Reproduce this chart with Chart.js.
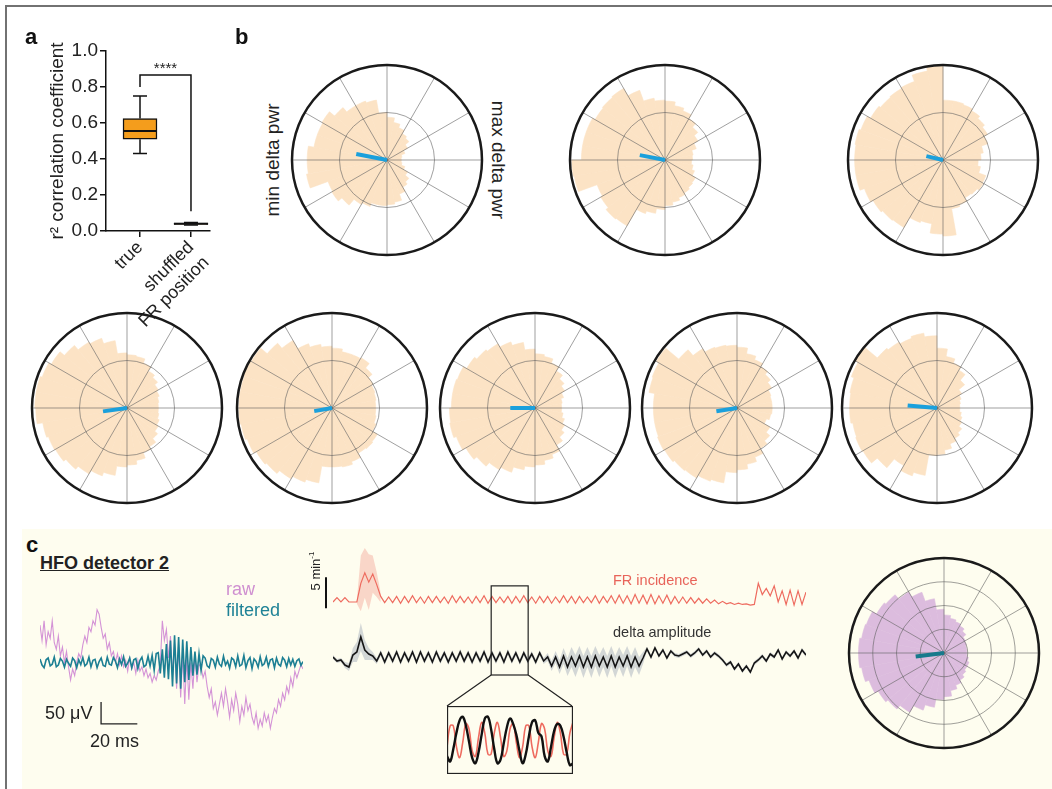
<!DOCTYPE html>
<html lang="en">
<head>
<meta charset="UTF-8">
<meta name="viewport" content="width=device-width, initial-scale=1.0">
<title>FR incidence locked to delta phase</title>
<script src="https://cdn.jsdelivr.net/npm/chart.js"></script>
<style>
  body { margin: 0; background: #fff; font-family: "Liberation Sans", Arial, sans-serif; color: #222; }
  #page { position: relative; width: 1052px; height: 789px; overflow: hidden; }
  #frame { position: absolute; left: 5px; top: 5px; width: 1100px; height: 900px; border-top: 2px solid #727272; border-left: 2px solid #727272; }
  #panelC { position: absolute; left: 22px; top: 529px; width: 1040px; height: 270px; background: #fefdef; }
  canvas { position: absolute; }
  .lbl { position: absolute; white-space: nowrap; line-height: 1; }
  .panel { font-weight: bold; font-size: 22px; color: #111; }
  .rot { transform: translate(-50%, -50%) rotate(-90deg); }
  .rot90 { transform: translate(-50%, -50%) rotate(90deg); }
</style>
</head>
<body>
<div id="page">
  <div id="frame"></div>
  <div id="panelC"></div>

  <canvas id="boxChart" width="215" height="320" style="left:10px;top:30px"></canvas>
  <canvas id="hfoChart" width="263" height="136" style="left:40px;top:601px"></canvas>
  <canvas id="traceChart" width="520" height="170" style="left:300px;top:540px"></canvas>
  <canvas id="insetChart" width="126" height="68" style="left:447px;top:706px"></canvas>

  <div class="lbl panel" style="left:25px;top:26px">a</div>
  <div class="lbl panel" style="left:235px;top:26px">b</div>
  <div class="lbl panel" style="left:26px;top:534px">c</div>

  <div class="lbl rot" style="left:272px;top:160px;font-size:19px">min delta pwr</div>
  <div class="lbl rot90" style="left:498px;top:160px;font-size:19px">max delta pwr</div>

  <div class="lbl" style="left:40px;top:554px;font-size:18px;font-weight:bold;text-decoration:underline">HFO detector 2</div>
  <div class="lbl" style="left:226px;top:580px;font-size:18px;color:#cf8fd0">raw</div>
  <div class="lbl" style="left:226px;top:601px;font-size:18px;color:#1f8296">filtered</div>
  <div class="lbl" style="left:45px;top:704px;font-size:18px">50 μV</div>
  <div class="lbl" style="left:90px;top:732px;font-size:18px">20 ms</div>

  <div class="lbl rot" style="left:315px;top:571px;font-size:13px">5 min<sup style="font-size:8px">-1</sup></div>
  <div class="lbl" style="left:613px;top:573px;font-size:14.5px;color:#e8645a">FR incidence</div>
  <div class="lbl" style="left:613px;top:625px;font-size:14.5px;color:#333">delta amplitude</div>
</div>

<script>
// ---- panel a: r^2 box plot ----
const boxCats = ['true', ['shuffled', 'FR position']];
const boxMin = [0.43, 0.033];
const boxQ1 = [0.51, 0.036];
const boxMed = [0.555, 0.040];
const boxQ3 = [0.625, 0.044];
const boxMax = [0.75, 0.047];
const sigBracket = { leftEnd: 0.80, top: 0.867, rightEnd: 0.11, label: '****' };

// ---- panel b: phase histograms (36 bins of 10 deg, clockwise from top) ----
const binStarts = [0,10,20,30,40,50,60,70,80,90,100,110,120,130,140,150,160,170,
                   180,190,200,210,220,230,240,250,260,270,280,290,300,310,320,330,340,350];
const rose1 = [0.45,0.40,0.36,0.32,0.30,0.25,0.20,0.16,0.15, 0.15,0.16,0.20,0.25,0.30,0.33,0.38,0.45,0.47,
               0.48,0.48,0.52,0.54,0.62,0.67,0.66,0.86,0.84, 0.84,0.78,0.78,0.79,0.72,0.66,0.66,0.64,0.50];
const rose2 = [0.62,0.58,0.55,0.50,0.45,0.40,0.35,0.30,0.29, 0.28,0.30,0.33,0.37,0.38,0.40,0.42,0.45,0.48,
               0.52,0.57,0.60,0.80,0.81,0.78,0.76,0.97,0.98, 0.88,0.88,0.88,0.85,0.86,0.87,0.78,0.66,0.63];
const rose3 = [0.63,0.63,0.62,0.60,0.57,0.54,0.50,0.43,0.40, 0.37,0.40,0.48,0.49,0.47,0.46,0.50,0.52,0.80,
               0.78,0.68,0.70,0.82,0.83,0.85,0.88,0.93,0.93, 0.93,0.94,0.92,0.88,0.86,0.87,0.88,0.95,0.99];
const rose4 = [0.56,0.55,0.50,0.45,0.42,0.38,0.36,0.34,0.33, 0.33,0.34,0.36,0.38,0.42,0.47,0.50,0.56,0.60,
               0.62,0.72,0.76,0.80,0.84,0.87,0.88,0.90,0.96, 0.97,0.97,0.95,0.92,0.86,0.80,0.78,0.72,0.58];
const rose5 = [0.63,0.60,0.60,0.61,0.55,0.50,0.48,0.47,0.46, 0.46,0.47,0.49,0.55,0.56,0.55,0.60,0.63,0.62,
               0.62,0.80,0.83,0.86,0.90,0.92,0.95,0.97,0.98, 0.98,0.98,0.99,0.98,0.89,0.82,0.72,0.68,0.65];
const rose6 = [0.57,0.55,0.50,0.45,0.40,0.36,0.32,0.29,0.28, 0.28,0.30,0.33,0.36,0.40,0.45,0.52,0.56,0.60,
               0.62,0.66,0.72,0.75,0.80,0.84,0.88,0.91,0.90, 0.88,0.88,0.87,0.83,0.80,0.78,0.74,0.70,0.62];
const rose7 = [0.64,0.58,0.54,0.50,0.46,0.42,0.38,0.37,0.37, 0.37,0.36,0.33,0.40,0.45,0.49,0.55,0.60,0.65,
               0.68,0.80,0.82,0.85,0.86,0.88,0.89,0.88,0.88, 0.88,0.94,0.95,0.98,0.80,0.72,0.68,0.67,0.66];
const rose8 = [0.63,0.55,0.50,0.46,0.38,0.30,0.27,0.25,0.24, 0.24,0.26,0.28,0.30,0.34,0.37,0.40,0.45,0.49,
               0.50,0.72,0.76,0.70,0.82,0.90,0.91,0.90,0.92, 0.92,0.93,0.96,1.00,0.82,0.80,0.78,0.80,0.76];
// mean vector per histogram: [angle deg, counter-clockwise from 3 o'clock; length]
const roseVectors = [[169,0.33],[169,0.27],[167,0.18],[188,0.255],[190,0.19],[180,0.26],[189,0.22],[175,0.31]];

// ---- panel c ----
const hfoDt = 1.125; // ms per sample
const rawTrace = [85,50,95,40,70,55,95, 45,30,60,15,35,0,25,-10, -40,-15,-30,0,
  20,10,40,60,45,80,70,95,85,120,110, 80,55,65,30,45,15,25,0,20,-5,
  15,-10,5,-20,10,-15,0,-25,5,-20,-10,-30,-15, -35,-25,-45,-30,-40,-20,-5, 95,50,75,
  10,60,-30,45,-60,40,-80,20,-95,10,-85,0,-60,15,-45,-5, -10,-35,-20,-55,
  -80,-60,-105,-90,-120,-95, -70,-100,-60,-90,-125,-85,-110,-70,-95,-135,-100,-120,-80,-110,-95,-125,
  -140,-115,-150,-130,-145,-115,-135,-120,-150, -125,-105,-115,-85,-100,-70,-85,-55,-70,-35,-55,-20,-35,
  -20,-5,-15];
const filteredTrace = [8,-6,-12,6,10,-8,-4,12,-10,-6, 9,3,-11,7,-2,-9,10,4,-12,6,
  -5,11,-8,-3,12,-10,5,7,-12,2, 10,-7,-9,12,-4,-6,11,3,-12,8, -5,13,-9,-2,10,-12,6,9,-14,4,
  12,-10,-6,14,-8,16,-18,20,
  22,-25,30,-35,42,-38,50,-55,62,-48, 58,-60,52,-45,48,-40,35,-30,25,-28, 20,-18,15,
  10,-8,-12,9,5,-11,12,-4,-9,14, -6,3,-13,10,6,-10,15,-8,-5,16, -12,4,11,-14,8,2,-11,13,-7,-3,
  12,-9,6,8,-12,10,-4,-8,11,5, -10,9,-6,7,-9,4,8,-7,2];
const hfoScaleBar = { t0: 33.7, tLen: 20, v0: -140, vLen: 50 };

// FR incidence (min^-1) and delta amplitude (a.u.), one sample per bin
const frIncidence = [2.0,2.7,2.0,2.7,2.0,2.0,2.0, 5.0,6.7,5.2,6.5,4.8,
  2.9,1.9,2.8,1.9,2.9,1.8,2.9,1.9,3.0,1.9,2.8,1.8,2.9,1.9,2.9,1.9,2.8,1.8,3.0,1.9,
  2.9,1.9,2.8,1.8,2.9,1.9,3.0,1.8,2.9,1.9,2.8,1.9,2.9,1.8,2.9,1.9,3.0,1.9,2.8,1.8,
  2.9,1.9,2.9,1.8,2.8,1.9,3.0,1.9,2.9,1.8,2.9,1.9,2.8,1.9,3.0,1.8,2.9,1.9,3.0,1.8,
  3.1,1.8,3.0,1.7,3.2,1.8,3.1,1.7,3.2,1.7,3.0,1.8,3.1,1.7,2.9,1.8,2.8,1.8,2.7,1.8,2.6,1.8,2.5,1.8,
  2.3,1.7,2.1,1.7,1.9,1.6,1.8,1.6,1.7,1.5,1.6,
  5.0,3.2,4.2,3.0,4.6,2.0,3.8,1.6,3.9,1.5,3.8,1.6,3.6];
const frBandStart = 6;
const frBandUpper = [2.3,9.5,10.7,9.7,9.5,6.8,3.5];
const frBandLower = [1.7,0.5,2.7,0.7,3.5,2.8,1.9];
const deltaAmp = [33,29,30,25,23,35,38,53,40,36,34,
  29,37,28,37,29,38,28,37,29,38, 28,38,29,37,28,38,29,37,28,37, 29,38,29,37,28,37,29,38,28,37,
  29,37,28,38,29,37,28,37,29,36, 28,37,29,
  33,24,33,23,34,23,33,24,34,23, 33,23,34,24,33,23,34,23,33,24, 34,23,33,24,32,
  41,33,42,34,40,32,39,35, 34,36,38,34,37,41,35,39,33,37,34,
  30,25,28,21,26,19,24,18,27, 30,34,29,36,33,40,31,38,34,39,32,40,35];
const deltaSpread = [2,2,2,3,4,7,10,14,10,6,4,
  3,3,3,3,3,3,3,3,3,3, 3,3,3,3,3,3,3,3,3,3, 3,3,3,3,3,3,3,3,3,3, 3,3,3,3,3,3,3,3,3,3, 3,3,3,
  4,5,6,7,8,9,10,11,10,11, 10,11,10,11,10,11,10,11,10,11, 10,11,10,9,6,
  2,2,2,2,2,2,2,2,2,2, 2,2,2,2,2,2,2,2,2,2, 2,2,2,2,2,2,2,2,2,2, 2,2,2,2,2,2,2,2,2,2, 2];
const zoomWindow = { from: 39.8, to: 49.1, frTop: 4.6, deltaBottom: 15 };

// zoomed cycles
const insetFR = [-0.38,0.79,0.79,-0.38,-0.99,-0.13,0.92,0.61,-0.61,-0.92,0.13,0.99,0.38,-0.79,-0.79,0.38,0.99,0.13,
  -0.92,-0.61,0.61,0.92,-0.13,-0.99,-0.38,0.79,0.79,-0.38,-0.99,-0.13,0.92,0.61,-0.61,-0.92,0.13,0.99,0.38,-0.79,-0.79,0.38,0.99];
const insetDelta = [-0.9,-1.2,-0.5,0.4,1.1,1.3,0.8,-0.1,-1.0,-1.3,-0.7,0.3,1.2,1.3,0.6,-0.5,-1.3,-1.1,-0.2,0.7,
  1.2,0.9,0.3,-0.6,-1.3,-0.8,0.2,1.0,1.1,0.4,0.2,-0.9,-1.2,-0.4,0.5,0.9,0.8,0.2,-0.7,-1.4,-1.3];

const rosePurple = [0.40,0.37,0.35,0.33,0.30,0.26,0.25,0.24,0.24, 0.24,0.26,0.28,0.28,0.30,0.33,0.36,0.40,0.46,
                    0.49,0.58,0.64,0.72,0.77,0.80,0.84,0.88,0.90, 0.90,0.88,0.87,0.82,0.80,0.74,0.68,0.58,0.46];
const purpleVector = [187, 0.30];

Chart.defaults.font.family = '"Liberation Sans", Arial, sans-serif';
Chart.defaults.color = '#222';
Chart.defaults.animation = false;
Chart.defaults.plugins.legend.display = false;
Chart.defaults.plugins.tooltip.enabled = false;

// ---------- panel a ----------
const boxPlugin = {
  id: 'boxWhiskers',
  afterDatasetsDraw(chart) {
    const { ctx, scales: { x, y } } = chart;
    ctx.save();
    ctx.strokeStyle = '#111';
    boxMed.forEach((m, i) => {
      const cx = x.getPixelForValue(i);
      ctx.lineWidth = 1.5;
      ctx.beginPath();
      ctx.moveTo(cx, y.getPixelForValue(boxQ3[i])); ctx.lineTo(cx, y.getPixelForValue(boxMax[i]));
      ctx.moveTo(cx, y.getPixelForValue(boxQ1[i])); ctx.lineTo(cx, y.getPixelForValue(boxMin[i]));
      ctx.moveTo(cx - 7, y.getPixelForValue(boxMax[i])); ctx.lineTo(cx + 7, y.getPixelForValue(boxMax[i]));
      ctx.moveTo(cx - 7, y.getPixelForValue(boxMin[i])); ctx.lineTo(cx + 7, y.getPixelForValue(boxMin[i]));
      ctx.stroke();
      ctx.lineWidth = 2;
      ctx.beginPath();
      ctx.moveTo(cx - 17, y.getPixelForValue(m)); ctx.lineTo(cx + 17, y.getPixelForValue(m));
      ctx.stroke();
    });
    // significance bracket
    const xl = x.getPixelForValue(0), xr = x.getPixelForValue(1), yt = y.getPixelForValue(sigBracket.top);
    ctx.lineWidth = 1.5;
    ctx.beginPath();
    ctx.moveTo(xl, y.getPixelForValue(sigBracket.leftEnd));
    ctx.lineTo(xl, yt); ctx.lineTo(xr, yt);
    ctx.lineTo(xr, y.getPixelForValue(sigBracket.rightEnd));
    ctx.stroke();
    ctx.fillStyle = '#222';
    ctx.font = '15px "Liberation Sans", Arial, sans-serif';
    ctx.textAlign = 'center';
    ctx.textBaseline = 'bottom';
    ctx.fillText(sigBracket.label, (xl + xr) / 2, yt + 1);
    ctx.restore();
  }
};

new Chart(document.getElementById('boxChart'), {
  type: 'bar',
  data: {
    datasets: [{
      data: boxQ1.map((q, i) => ({ x: i, y: [q, boxQ3[i]] })),
      backgroundColor: '#f49d1c',
      borderColor: '#111',
      borderWidth: 1.5,
      borderSkipped: false,
      barThickness: 34
    }]
  },
  options: {
    responsive: false,
    layout: { padding: { left: 36, top: 21, right: 15, bottom: 0 } },
    scales: {
      x: {
        type: 'linear', min: -0.667, max: 1.373, offset: false,
        afterBuildTicks: s => { s.ticks = boxCats.map((c, i) => ({ value: i })); },
        afterFit: s => { s.height = 119; },
        ticks: { callback: v => boxCats[v], autoSkip: false, minRotation: 45, maxRotation: 45, font: { size: 18 }, padding: 0, color: '#222' },
        grid: { drawOnChartArea: false, offset: false, tickLength: 6, color: '#111', lineWidth: 1.5 },
        border: { color: '#111', width: 1.5 }
      },
      y: {
        min: 0, max: 1,
        afterFit: s => { s.width = 60; },
        ticks: { stepSize: 0.2, callback: v => v.toFixed(1), font: { size: 19 }, padding: 2, color: '#222' },
        grid: { drawOnChartArea: false, tickLength: 6, color: '#111', lineWidth: 1.5 },
        border: { color: '#111', width: 1.5 },
        title: { display: true, text: 'r² correlation coefficient', font: { size: 19 }, padding: 0, color: '#222' }
      }
    }
  },
  plugins: [boxPlugin]
});

// ---------- rose plots ----------
function roseDecor(vec, rings, vecColor) {
  return {
    id: 'roseDecor',
    afterDatasetsDraw(chart) {
      const r = chart.scales.r, ctx = chart.ctx;
      const cx = r.xCenter, cy = r.yCenter, R = r.drawingArea;
      ctx.save();
      ctx.strokeStyle = 'rgba(95,95,95,0.75)';
      ctx.lineWidth = 0.8;
      ctx.beginPath();
      for (let k = 0; k < 12; k++) {
        const a = k * Math.PI / 6;
        ctx.moveTo(cx, cy);
        ctx.lineTo(cx + R * Math.cos(a), cy + R * Math.sin(a));
      }
      ctx.stroke();
      rings.forEach(v => {
        ctx.beginPath();
        ctx.arc(cx, cy, r.getDistanceFromCenterForValue(v), 0, 2 * Math.PI);
        ctx.stroke();
      });
      ctx.strokeStyle = '#1a1a1a';
      ctx.lineWidth = 2.5;
      ctx.beginPath();
      ctx.arc(cx, cy, R, 0, 2 * Math.PI);
      ctx.stroke();
      const ang = vec[0] * Math.PI / 180, len = r.getDistanceFromCenterForValue(vec[1]);
      ctx.strokeStyle = vecColor;
      ctx.lineWidth = 4;
      ctx.beginPath();
      ctx.moveTo(cx, cy);
      ctx.lineTo(cx + len * Math.cos(ang), cy - len * Math.sin(ang));
      ctx.stroke();
      ctx.restore();
    }
  };
}

function makeRose(values, vec, cx, cy, fill, vecColor, rings) {
  const cv = document.createElement('canvas');
  cv.width = 204; cv.height = 204;
  cv.style.left = (cx - 102) + 'px';
  cv.style.top = (cy - 102) + 'px';
  document.getElementById('page').appendChild(cv);
  new Chart(cv, {
    type: 'polarArea',
    data: {
      labels: binStarts,
      datasets: [{ data: values, backgroundColor: fill, borderColor: fill, borderWidth: 0.6 }]
    },
    options: {
      responsive: false,
      layout: { padding: 7 },
      scales: {
        r: {
          min: 0, max: 1,
          ticks: { display: false },
          grid: { display: false },
          angleLines: { display: false },
          pointLabels: { display: false }
        }
      }
    },
    plugins: [roseDecor(vec, rings, vecColor)]
  });
}

const roseLayout = [
  [387, 160], [665, 160], [943, 160],
  [127, 408], [332, 408], [535, 408], [737, 408], [937, 408]
];
[rose1, rose2, rose3, rose4, rose5, rose6, rose7, rose8].forEach((vals, i) => {
  makeRose(vals, roseVectors[i], roseLayout[i][0], roseLayout[i][1], '#fce3c5', '#1ba0dc', [0.5]);
});
makeRose(rosePurple, purpleVector, 944, 653, '#dcbcde', '#177a8c', [0.25, 0.5, 0.75]);

// ---------- HFO traces ----------
const hfoBar = {
  id: 'hfoBar',
  afterDraw(chart) {
    const { ctx, scales: { x, y } } = chart;
    const x0 = x.getPixelForValue(hfoScaleBar.t0), x1 = x.getPixelForValue(hfoScaleBar.t0 + hfoScaleBar.tLen);
    const y0 = y.getPixelForValue(hfoScaleBar.v0), y1 = y.getPixelForValue(hfoScaleBar.v0 + hfoScaleBar.vLen);
    ctx.save();
    ctx.strokeStyle = '#222';
    ctx.lineWidth = 1.3;
    ctx.beginPath();
    ctx.moveTo(x0, y1); ctx.lineTo(x0, y0); ctx.lineTo(x1, y0);
    ctx.stroke();
    ctx.restore();
  }
};

new Chart(document.getElementById('hfoChart'), {
  type: 'line',
  data: {
    datasets: [
      { data: filteredTrace.map((v, i) => ({ x: i * hfoDt, y: v })), borderColor: '#1c7f93', borderWidth: 1.6 },
      { data: rawTrace.map((v, i) => ({ x: i * hfoDt, y: v })), borderColor: '#d493d6', borderWidth: 1.1 }
    ]
  },
  options: {
    responsive: false,
    elements: { point: { radius: 0 }, line: { tension: 0 } },
    layout: { padding: 0 },
    scales: {
      x: { type: 'linear', display: false, min: 0, max: (rawTrace.length - 1) * hfoDt },
      y: { display: false, min: -170, max: 140 }
    }
  },
  plugins: [hfoBar]
});

// ---------- FR incidence / delta amplitude ----------
const traceDecor = {
  id: 'traceDecor',
  afterDraw(chart) {
    const { ctx, chartArea, scales: { x, yF, yD } } = chart;
    ctx.save();
    // 5 min^-1 scale bar
    ctx.strokeStyle = '#111';
    ctx.lineWidth = 2;
    const bx = chartArea.left - 7;
    ctx.beginPath();
    ctx.moveTo(bx, yF.getPixelForValue(1)); ctx.lineTo(bx, yF.getPixelForValue(6));
    ctx.stroke();
    // zoom window and connectors to the inset
    const xl = x.getPixelForValue(zoomWindow.from), xr = x.getPixelForValue(zoomWindow.to);
    const yt = yF.getPixelForValue(zoomWindow.frTop), yb = yD.getPixelForValue(zoomWindow.deltaBottom);
    ctx.strokeStyle = '#222';
    ctx.lineWidth = 1.2;
    ctx.strokeRect(xl, yt, xr - xl, yb - yt);
    ctx.beginPath();
    ctx.moveTo(xl, yb); ctx.lineTo(147, 166);
    ctx.moveTo(xr, yb); ctx.lineTo(272, 166);
    ctx.stroke();
    ctx.restore();
  }
};

const frPts = frIncidence.map((v, i) => ({ x: i, y: v }));
const deltaPts = deltaAmp.map((v, i) => ({ x: i, y: v }));
new Chart(document.getElementById('traceChart'), {
  type: 'line',
  data: {
    datasets: [
      { data: frPts, yAxisID: 'yF', borderColor: '#ee6b5f', borderWidth: 1.2 },
      { data: deltaPts, yAxisID: 'yD', borderColor: '#151515', borderWidth: 1.6 },
      { data: frBandUpper.map((v, i) => ({ x: frBandStart + i, y: v })), yAxisID: 'yF', borderWidth: 0, fill: '+1', backgroundColor: 'rgba(240,125,110,0.3)' },
      { data: frBandLower.map((v, i) => ({ x: frBandStart + i, y: v })), yAxisID: 'yF', borderWidth: 0 },
      { data: deltaAmp.map((v, i) => ({ x: i, y: v + deltaSpread[i] })), yAxisID: 'yD', borderWidth: 0, fill: '+1', backgroundColor: 'rgba(160,168,185,0.45)' },
      { data: deltaAmp.map((v, i) => ({ x: i, y: v - deltaSpread[i] })), yAxisID: 'yD', borderWidth: 0 }
    ]
  },
  options: {
    responsive: false,
    elements: { point: { radius: 0 }, line: { tension: 0 } },
    layout: { padding: { left: 33, right: 14, top: 0, bottom: 20 } },
    scales: {
      x: { type: 'linear', display: false, min: 0, max: frIncidence.length - 1 },
      yF: { display: false, min: -12.2, max: 12 },
      yD: { display: false, min: 0, max: 150 }
    }
  },
  plugins: [traceDecor]
});

// ---------- inset ----------
const insetBorder = {
  id: 'insetBorder',
  afterDraw(chart) {
    const { ctx, chartArea: a } = chart;
    ctx.save();
    ctx.strokeStyle = '#222';
    ctx.lineWidth = 1.3;
    ctx.strokeRect(a.left + 0.5, a.top + 0.5, a.right - a.left - 1, a.bottom - a.top - 1);
    ctx.restore();
  }
};

new Chart(document.getElementById('insetChart'), {
  type: 'line',
  data: {
    datasets: [
      { data: insetDelta.map((v, i) => ({ x: i, y: v })), borderColor: '#111', borderWidth: 2.4 },
      { data: insetFR.map((v, i) => ({ x: i, y: v })), borderColor: '#ee6b5f', borderWidth: 1.6 }
    ]
  },
  options: {
    responsive: false,
    elements: { point: { radius: 0 }, line: { tension: 0.4 } },
    layout: { padding: 0 },
    scales: {
      x: { type: 'linear', display: false, min: 0, max: insetFR.length - 1 },
      y: { display: false, min: -1.9, max: 1.9 }
    }
  },
  plugins: [insetBorder]
});
</script>
</body>
</html>
